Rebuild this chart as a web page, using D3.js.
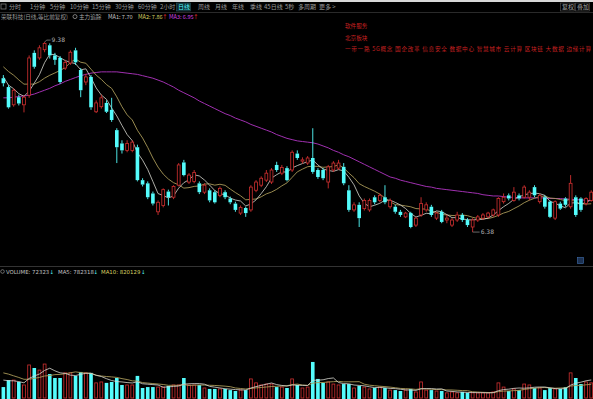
<!DOCTYPE html>
<html><head><meta charset="utf-8">
<script src="https://cdn.jsdelivr.net/npm/d3@7"></script>
<style>html,body{margin:0;padding:0;background:#000;}svg{display:block;}</style>
</head><body>
<svg id="c" width="593" height="399"></svg>
<script>
// ---------- data ----------
const tabs = ["分时","1分钟","5分钟","10分钟","15分钟","30分钟","60分钟","2小时","日线","周线","月线","年线","季线","45日线","5秒","多周期","更多 >"];
const tabX = [9,30,50,70,92,115,138,160,178,198,215,232,250,264,285,298,319];
const conceptTags = ["一带一路","5G概念","国企改革","信息安全","数据中心","智慧城市","云计算","区块链","大数据","边缘计算"];
const open  = [8.81,8.67,8.39,8.51,8.39,8.54,9.21,9.13,9.26,9.33,9.17,9.13,8.97,9.05,9.25,8.94,8.75,8.83,8.28,8.36,8.42,8.31,7.99,7.78,7.67,7.67,7.72,7.20,7.15,6.99,6.70,6.80,7.02,6.93,7.12,7.48,7.17,7.18,7.15,7.01,7.04,7.01,6.96,7.01,6.91,6.83,6.68,6.76,6.73,7.04,7.12,7.20,7.17,7.44,7.31,7.39,7.36,7.62,7.50,7.47,7.55,7.36,7.36,7.17,7.36,7.39,7.41,7.04,6.73,6.81,6.75,6.73,6.93,6.88,6.93,6.78,6.78,6.70,6.62,6.68,6.49,6.65,6.73,6.78,6.60,6.70,6.57,6.49,6.57,6.65,6.57,6.46,6.57,6.60,6.62,6.65,6.65,6.86,6.96,6.88,6.96,6.93,6.93,7.09,6.86,6.93,6.86,6.60,6.83,6.91,6.78,6.93,6.91,6.83,6.88];
const close = [8.73,8.35,8.62,8.41,8.51,9.13,8.99,9.29,9.36,9.17,9.10,8.75,9.06,9.22,9.06,8.62,8.83,8.35,8.42,8.50,8.28,8.15,7.72,7.67,7.78,7.80,7.20,7.13,6.93,6.83,6.85,7.05,6.93,7.10,7.44,7.28,7.28,7.32,7.01,7.12,6.88,6.85,7.07,6.93,6.85,6.73,6.77,6.68,7.09,7.17,7.23,7.31,7.36,7.36,7.40,7.20,7.64,7.55,7.52,7.55,7.33,7.25,7.23,7.41,7.47,7.47,7.15,6.73,6.81,6.60,6.88,6.88,6.85,6.96,6.85,6.88,6.70,6.65,6.68,6.46,6.60,6.83,6.81,6.65,6.68,6.54,6.60,6.57,6.65,6.57,6.49,6.57,6.62,6.65,6.68,6.73,6.91,6.93,6.91,7.01,6.91,7.09,7.01,6.96,6.96,6.78,6.62,6.86,6.75,6.81,7.15,6.65,6.73,6.91,7.01];
const high  = [8.86,8.70,8.65,8.55,8.54,9.17,9.25,9.33,9.38,9.36,9.21,9.16,9.10,9.25,9.29,8.97,8.88,8.86,8.46,8.55,8.46,8.50,8.02,7.83,7.83,7.83,7.76,7.23,7.18,7.02,6.88,7.07,7.05,7.12,7.47,7.52,7.31,7.36,7.18,7.15,7.07,7.04,7.10,7.04,6.94,6.86,6.80,6.78,7.12,7.20,7.26,7.36,7.39,7.49,7.44,7.42,7.67,7.67,7.56,7.58,8.02,7.39,7.39,7.44,7.50,7.52,7.47,7.12,6.85,6.85,6.91,6.91,6.96,6.99,7.12,6.91,6.81,6.73,6.70,6.70,6.62,6.93,6.85,6.81,6.70,6.73,6.65,6.60,6.70,6.68,6.60,6.60,6.65,6.68,6.70,6.75,6.93,6.99,6.99,7.09,6.99,7.12,7.04,7.12,6.99,6.96,6.88,6.88,6.86,6.93,7.28,6.96,6.93,6.93,7.04];
const low   = [8.68,8.33,8.36,8.38,8.27,8.50,8.96,9.10,9.22,9.12,9.02,8.72,8.94,9.02,9.02,8.51,8.70,8.31,8.26,8.33,8.26,8.12,7.47,7.62,7.64,7.64,7.18,7.10,6.90,6.80,6.65,6.77,6.80,6.90,7.10,7.26,7.14,7.15,6.98,6.98,6.85,6.83,6.93,6.90,6.82,6.70,6.65,6.62,6.70,7.01,7.09,7.17,7.14,7.33,7.28,7.18,7.33,7.52,7.46,7.44,7.30,7.22,7.20,7.07,7.33,7.36,7.12,6.70,6.70,6.46,6.72,6.70,6.82,6.85,6.82,6.75,6.67,6.62,6.60,6.44,6.46,6.62,6.70,6.62,6.57,6.52,6.52,6.46,6.54,6.54,6.46,6.38,6.54,6.57,6.60,6.62,6.62,6.83,6.88,6.86,6.88,6.91,6.88,6.93,6.83,6.75,6.60,6.57,6.73,6.78,6.75,6.62,6.70,6.80,6.86];
const priorClose = [9.10,9.20,9.15,9.18,9.12,9.00,8.90,8.80,8.72];
const ma60 = [8.50,8.50,8.51,8.52,8.53,8.54,8.56,8.59,8.62,8.65,8.69,8.72,8.76,8.79,8.82,8.85,8.87,8.89,8.90,8.91,8.91,8.91,8.91,8.90,8.89,8.88,8.87,8.85,8.83,8.81,8.78,8.75,8.71,8.67,8.62,8.58,8.54,8.50,8.45,8.41,8.37,8.33,8.29,8.25,8.22,8.18,8.15,8.12,8.08,8.05,8.02,7.99,7.96,7.92,7.89,7.86,7.84,7.82,7.81,7.80,7.79,7.77,7.74,7.71,7.67,7.64,7.60,7.57,7.53,7.49,7.45,7.41,7.37,7.33,7.29,7.25,7.23,7.20,7.18,7.16,7.14,7.12,7.10,7.09,7.07,7.06,7.05,7.04,7.03,7.02,7.01,7.00,6.99,6.97,6.96,6.95,6.95,6.94,6.93,6.93,6.92,6.92,6.92,6.92,6.92,6.92,6.91,6.91,6.91,6.90,6.90,6.89,6.89,6.88,6.88];
const volume = [47,77,77,69,56,142,129,120,146,103,86,86,108,108,95,112,108,108,65,69,65,69,86,56,56,56,95,43,47,47,47,47,52,56,56,86,56,56,56,43,39,39,39,39,34,30,34,34,82,65,56,60,60,47,47,43,82,56,43,47,155,82,65,69,60,56,60,60,43,52,47,39,43,47,43,34,34,30,34,39,26,69,34,34,30,30,22,26,22,26,22,22,22,22,22,26,65,47,30,39,34,60,56,43,43,34,43,39,39,47,108,86,60,69,65];
const priorVolume = [130,150,140,135,140,90,80,85,83];
const highLabel = "9.38", lowLabel = "6.38";

// ---------- drawing ----------
const svg = d3.select("#c");
const W = 593, N = close.length;
const RED = "#d03030", CYAN = "#54fcfc";
const FONT = "'Noto Sans CJK SC','Noto Sans',sans-serif";

const x = d3.scaleBand().domain(d3.range(N)).range([0, 594.6]).paddingInner(0.3).paddingOuter(0.3);
const cx = i => x(i) + x.bandwidth()/2;
const y = d3.scaleLinear().domain([5.86, 9.65]).range([265, 25]);
const yv = d3.scaleLinear().domain([0, 292.4]).range([398, 330]);

svg.append("rect").attr("width",W).attr("height",399).attr("fill","#000");
svg.append("rect").attr("x",0).attr("y",0).attr("width",W).attr("height",2).attr("fill","#d8d8d8");
svg.append("line").attr("x1",0).attr("x2",W).attr("y1",12.5).attr("y2",12.5).attr("stroke","#2a2a2a");
svg.append("line").attr("x1",0).attr("x2",W).attr("y1",266.5).attr("y2",266.5).attr("stroke","#333");

// tabs
svg.append("rect").attr("x",1).attr("y",4).attr("width",5).attr("height",5).attr("fill","none").attr("stroke","#888").attr("stroke-width",0.7);
const tg = svg.append("g").attr("font-family",FONT).attr("font-size",6);
tabs.forEach((t,k)=>{
  if (t==="日线") {
    tg.append("rect").attr("x",tabX[k]-1.5).attr("y",3).attr("width",14).attr("height",8).attr("fill","#0c2a30").attr("stroke","#2a5560").attr("stroke-width",0.6);
  }
  tg.append("text").attr("x",tabX[k]).attr("y",9.3).attr("fill", t==="日线" ? CYAN : "#9a9a9a").text(t);
});
[["复权",562],["叠加",577]].forEach(([t,xx])=>{
  svg.append("rect").attr("x",xx-1.5).attr("y",3).attr("width",14).attr("height",8).attr("fill","none").attr("stroke","#555").attr("stroke-width",0.6);
  svg.append("text").attr("x",xx).attr("y",9.3).attr("font-family",FONT).attr("font-size",6).attr("fill","#aaa").text(t);
});

// header row
const hg = svg.append("g").attr("font-family",FONT).attr("font-size",5.6);
hg.append("text").attr("x",1).attr("y",18.5).attr("fill","#9a9a9a").text("荣联科技(日线,等比前复权)");
hg.append("circle").attr("cx",75).attr("cy",16.6).attr("r",2).attr("fill","none").attr("stroke","#aaa").attr("stroke-width",0.7);
hg.append("text").attr("x",79).attr("y",18.5).attr("fill","#aaa").text("主力追踪");
hg.append("text").attr("x",108).attr("y",18.5).attr("fill","#c8c8c8").text("MA1: 7.70");
hg.append("text").attr("x",138).attr("y",18.5).attr("fill","#d8d060").text("MA2: 7.86");
hg.append("text").attr("x",162).attr("y",18.5).attr("fill","#ff3030").text("↑");
hg.append("text").attr("x",169).attr("y",18.5).attr("fill","#d040e0").text("MA3: 6.95");
hg.append("text").attr("x",193).attr("y",18.5).attr("fill","#ff3030").text("↑");

// concept tags (right, red)
const rg = svg.append("g").attr("font-family",FONT).attr("font-size",5.6).attr("fill","#c82020");
rg.append("text").attr("x",345).attr("y",28).text("软件服务");
rg.append("text").attr("x",345).attr("y",39.5).text("北京板块");
rg.append("text").attr("x",345).attr("y",50.5).attr("textLength",246).attr("lengthAdjust","spacing").text(conceptTags.join(" "));

// MA lines (price)
const allClose = priorClose.concat(close);
const P = priorClose.length;
const maOf = (arr, n, off) => d3.range(N).map(i => d3.mean(arr.slice(i+off-n+1, i+off+1)));
const ma5 = maOf(allClose, 5, P), ma10 = maOf(allClose, 10, P);
const line = d3.line().x((d,i)=>cx(i)).y(d=>y(d));
svg.append("path").datum(ma60).attr("d",line).attr("fill","none").attr("stroke","#a030b0").attr("stroke-width",1);
svg.append("path").datum(ma10).attr("d",line).attr("fill","none").attr("stroke","#a89858").attr("stroke-width",0.9);
svg.append("path").datum(ma5).attr("d",line).attr("fill","none").attr("stroke","#d8d8d0").attr("stroke-width",0.8);

// candles
const bw = x.bandwidth();
const cg = svg.append("g");
d3.range(N).forEach(i=>{
  const up = close[i] >= open[i];
  const col = up ? RED : CYAN;
  const top = y(Math.max(open[i],close[i])), bot = y(Math.min(open[i],close[i]));
  const h = Math.max(bot-top, 1);
  cg.append("line").attr("x1",cx(i)).attr("x2",cx(i)).attr("y1",y(high[i])).attr("y2",top).attr("stroke",col).attr("stroke-width",0.9);
  cg.append("line").attr("x1",cx(i)).attr("x2",cx(i)).attr("y1",top+h).attr("y2",y(low[i])).attr("stroke",col).attr("stroke-width",0.9);
  if (up) {
    cg.append("rect").attr("x",x(i)+0.4).attr("y",top).attr("width",bw-0.8).attr("height",h).attr("fill","#000").attr("stroke",col).attr("stroke-width",0.8);
  } else {
    cg.append("rect").attr("x",x(i)).attr("y",top).attr("width",bw).attr("height",h).attr("fill",col);
  }
});

// high / low labels
const hi = d3.maxIndex(high), lo = d3.minIndex(low);
const lg = svg.append("g").attr("font-family","'DejaVu Sans',sans-serif").attr("font-size",6).attr("fill","#b0b0b0");
svg.append("path").attr("d",`M${cx(hi)},${y(high[hi])} L${cx(hi)+2},${y(high[hi])-2} L${cx(hi)+6},${y(high[hi])-2}`).attr("fill","none").attr("stroke","#b0b0b0").attr("stroke-width",0.6);
lg.append("text").attr("x",cx(hi)+7).attr("y",y(high[hi])).text(highLabel);
svg.append("path").attr("d",`M${cx(lo)},${y(low[lo])} L${cx(lo)+7},${y(low[lo])}`).attr("fill","none").attr("stroke","#b0b0b0").attr("stroke-width",0.6);
lg.append("text").attr("x",cx(lo)+8).attr("y",y(low[lo])+2).text(lowLabel);

// small icon bottom-right of main panel
svg.append("rect").attr("x",577.5).attr("y",257.5).attr("width",6).attr("height",6).attr("fill","#1c3050").attr("stroke","#4070b0").attr("stroke-width",0.6);

// volume header
const vg = svg.append("g").attr("font-family","'DejaVu Sans',sans-serif").attr("font-size",5.4);
vg.append("circle").attr("cx",2.5).attr("cy",271.5).attr("r",1.8).attr("fill","none").attr("stroke","#aaa").attr("stroke-width",0.6);
vg.append("text").attr("x",6).attr("y",273.5).attr("fill","#c0c0c0").text("VOLUME: 72323");
vg.append("text").attr("x",49.5).attr("y",273.5).attr("fill",CYAN).text("↓");
vg.append("text").attr("x",58).attr("y",273.5).attr("fill","#c0c0c0").text("MA5: 782318");
vg.append("text").attr("x",93.5).attr("y",273.5).attr("fill",CYAN).text("↓");
vg.append("text").attr("x",101).attr("y",273.5).attr("fill","#d8d060").text("MA10: 820129");
vg.append("text").attr("x",141).attr("y",273.5).attr("fill",CYAN).text("↓");

// volume bars
const vb = svg.append("g");
d3.range(N).forEach(i=>{
  const up = close[i] >= open[i];
  const t = yv(volume[i]);
  if (up) vb.append("rect").attr("x",x(i)+0.4).attr("y",t).attr("width",bw-0.8).attr("height",398-t).attr("fill","#000").attr("stroke",RED).attr("stroke-width",0.8);
  else vb.append("rect").attr("x",x(i)).attr("y",t).attr("width",bw).attr("height",399-t).attr("fill",CYAN);
});
const allVol = priorVolume.concat(volume);
const vma5 = maOf(allVol, 5, P), vma10 = maOf(allVol, 10, P);
const vline = d3.line().x((d,i)=>cx(i)).y(d=>yv(d));
svg.append("path").datum(vma10).attr("d",vline).attr("fill","none").attr("stroke","#a89858").attr("stroke-width",0.9);
svg.append("path").datum(vma5).attr("d",vline).attr("fill","none").attr("stroke","#d8d8d0").attr("stroke-width",0.8);
</script>
</body></html>
